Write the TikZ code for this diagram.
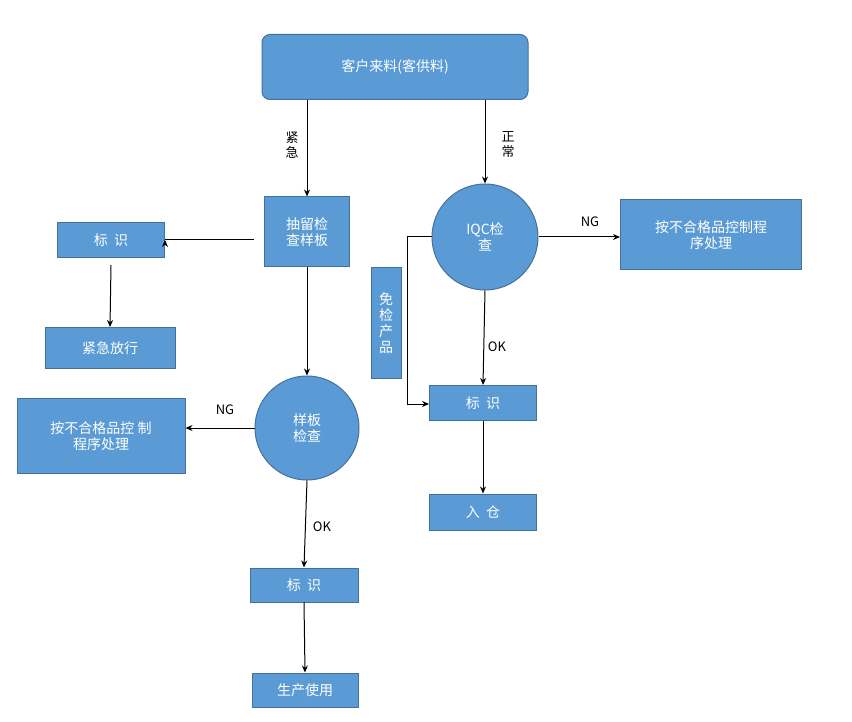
\documentclass[tikz,border=0pt]{standalone}
\usepackage{fontspec}
\setmainfont{Noto Sans CJK SC}
\usetikzlibrary{arrows.meta}
\definecolor{bf}{HTML}{5B9BD5}
\definecolor{bd}{HTML}{41719C}
\begin{document}
\begin{tikzpicture}[x=1pt,y=-1pt,
 box/.style={draw=bd,fill=bf,line width=1pt,text=white,font=\fontsize{14}{16}\selectfont,align=center,inner sep=0pt},
 circ/.style={circle,draw=bd,fill=bf,line width=1pt,text=white,font=\fontsize{14}{16}\selectfont,align=center,inner sep=0pt},
 lab/.style={font=\fontsize{13}{15}\selectfont,align=center},
 arr/.style={-{Stealth[length=7pt,width=6pt]},line width=1pt}]
\useasboundingbox (0,0) rectangle (852,722);
\fill[white] (0,0) rectangle (852,722);
\node[box,rounded corners=8pt,minimum width=266pt,minimum height=65pt] (top) at (395,67) {客户来料(客供料)};
\node[box,minimum width=85pt,minimum height=70pt] (cl) at (307,232) {抽留检\\查样板};
\node[box,minimum width=107pt,minimum height=35pt] (bs1) at (111,240) {标\ \ 识};
\node[box,minimum width=130pt,minimum height=41pt] (jj) at (110,348) {紧急放行};
\node[circ,minimum size=104pt] (yb) at (307,428) {样板\\检查};
\node[box,minimum width=168pt,minimum height=75pt] (ng1) at (101,436) {按不合格品控 制\\程序处理};
\node[box,minimum width=108pt,minimum height=34pt] (bs2) at (304,585) {标\ \ 识};
\node[box,minimum width=106pt,minimum height=34pt] (sc) at (305,690) {生产使用};
\node[circ,minimum size=106pt] (iqc) at (485,237) {IQC检\\查};
\node[box,minimum width=181pt,minimum height=70pt] (ng2) at (711,235) {按不合格品控制程\\序处理};
\node[box,minimum width=107pt,minimum height=35pt] (bs3) at (483,403) {标\ \ 识};
\node[box,minimum width=107pt,minimum height=36pt] (rc) at (483,512) {入\ \ 仓};
\node[box,minimum width=30pt,minimum height=110pt] (mj) at (386,323) {免\\检\\产\\品};
\coordinate (c1) at (407,237);
\coordinate (c2) at (407,404);
\draw[arr] (top.south -| cl) -- (cl.north);
\node[lab] at (292,145) {紧\\急};
\draw[arr] (top.south -| iqc) -- (iqc.north);
\node[lab] at (508,145) {正\\常};
\draw[arr] (cl.west)++(-10,8) -- ([yshift=0pt]bs1.east) ++(0,0);
\draw[arr] (bs1) ++(0,25) -- (jj.north);
\draw[arr] (cl.south) -- (yb.north);
\draw[arr] (yb.west) -- (ng1.east |- yb.west);
\node[lab] at (225,410) {NG};
\draw[arr] (yb.south) -- (bs2.north);
\node[lab] at (322,527) {OK};
\draw[arr] (bs2.south) -- (sc.north);
\draw[arr] (iqc.east) -- (ng2.west |- iqc.east);
\node[lab] at (590,222) {NG};
\draw[arr] (iqc.south) -- (bs3.north);
\node[lab] at (497,347) {OK};
\draw[arr] (bs3.south) -- (rc.north);
\draw[arr] (iqc.west) -- (c1) -- (c2) -- (bs3.west |- c2);
\end{tikzpicture}
\end{document}
